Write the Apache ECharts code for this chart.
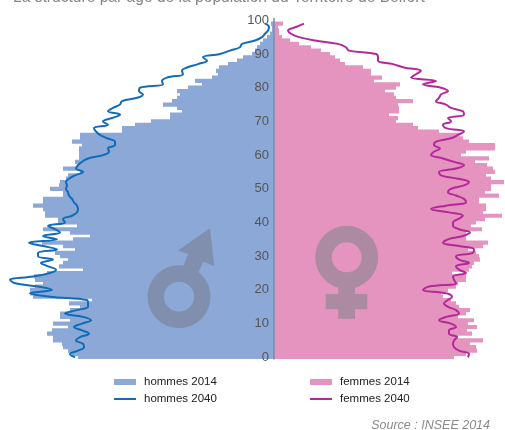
<!DOCTYPE html>
<html>
<head>
<meta charset="utf-8">
<title>Pyramide des âges</title>
<script src="https://cdn.jsdelivr.net/npm/echarts@6/dist/echarts.min.js"></script>
<style>
html, body { margin: 0; padding: 0; background: #fff; }
#chart { width: 505px; height: 430px; }
</style>
</head>
<body>
<div id="chart"></div>
<script>
// ages 0 to 100, bottom to top
var ages = [];
for (var i = 0; i <= 100; i++) ages.push(String(i));
var tickLabels = ['0', '10', '20', '30', '40', '50', '60', '70', '80', '90', '100'];

// values, arbitrary unit (no scale on the original)
var hommes2014 = [196, 202, 206, 211, 212, 221, 221, 227, 222, 206,
    221, 204, 214, 214, 204, 194, 205, 182, 241, 244,
    244, 239, 231, 239, 240, 227, 191, 215, 211, 206,
    214, 219, 199, 211, 232, 201, 184, 204, 231, 197,
    216, 216, 229, 229, 231, 241, 231, 231, 211, 211,
    224, 215, 214, 208, 206, 194, 211, 197, 199, 195,
    195, 195, 195, 192, 202, 194, 194, 152, 152, 139,
    123, 104, 104, 92, 97, 111, 102, 97, 94, 97,
    86, 72, 79, 62, 56, 58, 55, 46, 37, 31,
    22, 19, 17, 14, 11, 7, 4, 2, 2, 3, 0];

var femmes2014 = [180, 192, 203, 202, 196, 209, 184, 198, 193, 203,
    194, 200, 184, 192, 196, 185, 182, 177, 169, 167,
    174, 182, 184, 192, 192, 178, 195, 198, 200, 206,
    205, 202, 194, 209, 214, 192, 192, 192, 208, 197,
    202, 211, 228, 209, 212, 212, 205, 205, 225, 211,
    217, 217, 230, 217, 212, 221, 219, 213, 201, 215,
    187, 192, 221, 221, 195, 189, 185, 165, 144, 139,
    122, 124, 115, 125, 125, 124, 139, 122, 120, 111,
    122, 126, 100, 108, 97, 97, 89, 71, 66, 61,
    56, 47, 37, 25, 16, 8, 5, 5, 4, 9, 0];

var hommes2040 = [199, 204, 196, 190, 191, 198, 194, 185, 192, 200,
    192, 183, 191, 209, 197, 186, 186, 187, 224, 244,
    222, 236, 259, 264, 241, 224, 218, 226, 233, 221,
    236, 236, 217, 231, 245, 217, 231, 214, 219, 226,
    209, 211, 202, 197, 196, 197, 200, 202, 205, 206,
    208, 207, 208, 205, 199, 191, 198, 196, 192, 186,
    171, 165, 166, 159, 159, 167, 174, 178, 180, 166,
    171, 162, 154, 166, 161, 154, 152, 137, 131, 135,
    134, 111, 112, 107, 91, 92, 87, 76, 67, 71,
    54, 44, 34, 32, 19, 12, 9, 6, 5, 9];

var femmes2040 = [194, 195, 185, 180, 179, 180, 183, 175, 175, 182,
    177, 165, 172, 185, 182, 174, 170, 174, 178, 172,
    149, 155, 182, 180, 179, 192, 185, 182, 195, 185,
    182, 199, 200, 185, 169, 174, 189, 196, 185, 179,
    179, 184, 189, 175, 157, 172, 192, 190, 182, 174,
    177, 190, 195, 184, 167, 165, 182, 190, 180, 169,
    157, 160, 166, 160, 162, 177, 184, 190, 172, 169,
    177, 174, 190, 189, 177, 172, 162, 165, 167, 174,
    167, 149, 162, 137, 142, 147, 130, 119, 104, 104,
    102, 75, 72, 64, 41, 25, 17, 14, 22, 30];

var blue = '#8ca8d6', pink = '#e594bf', blueLine = '#0f6cb9', pinkLine = '#b5289a';

function negate(list) {
    return list.map(function (v) { return -v; });
}

function legendFor(names, left) {
    return {
        data: [{ name: names[0], icon: 'rect' }, { name: names[1], itemStyle: { opacity: 0 } }],
        orient: 'vertical',
        left: left,
        top: 376,
        itemWidth: 22,
        itemHeight: 6,
        itemGap: 5,
        padding: 0,
        textStyle: { fontFamily: 'Liberation Sans', fontSize: 11.5, color: '#222', height: 12, lineHeight: 12, padding: [0, 0, 0, 3] }
    };
}

var myChart = echarts.init(document.getElementById('chart'), null, { renderer: 'canvas' });

var option = {
    animation: false,
    backgroundColor: '#fff',
    title: [
        {
            text: 'La structure par âge de la population du Territoire de Belfort',
            left: 8,
            top: -15,
            textStyle: { fontFamily: 'Liberation Sans', fontSize: 15.6, fontWeight: 'normal', color: '#858585' }
        },
        {
            text: 'Source : INSEE 2014',
            right: 10,
            top: 414,
            textStyle: { fontFamily: 'Liberation Sans', fontSize: 12.5, fontWeight: 'normal', fontStyle: 'italic', color: '#8a8a8a' }
        }
    ],
    legend: [
        legendFor(['hommes 2014', 'hommes 2040'], 113),
        legendFor(['femmes 2014', 'femmes 2040'], 309)
    ],
    grid: { left: 0, right: 0, top: 18.6, height: 340.4, outerBoundsMode: 'none' },
    xAxis: {
        type: 'value',
        min: -274,
        max: 231,
        show: false,
        splitLine: { show: false }
    },
    yAxis: {
        type: 'category',
        data: ages,
        position: 'left',
        offset: -274,
        z: 5,
        axisLine: { onZero: false, lineStyle: { color: '#7d8dab', width: 1.5 } },
        axisTick: {
            alignWithLabel: true,
            length: 3,
            lineStyle: { color: '#8a8f9c' },
            interval: function (idx, val) { return tickLabels.indexOf(val) >= 0; }
        },
        axisLabel: {
            fontFamily: 'Liberation Sans',
            fontSize: 13,
            color: '#555',
            margin: 5,
            interval: function (idx, val) { return tickLabels.indexOf(val) >= 0; }
        }
    },
    series: [
        // rows overlap a little, otherwise seams show between them
        { name: 'hommes 2014', type: 'bar', stack: 'pop', barWidth: '125%', data: negate(hommes2014), itemStyle: { color: blue } },
        { name: 'femmes 2014', type: 'bar', stack: 'pop', barWidth: '125%', data: femmes2014, itemStyle: { color: pink } },
        { name: 'hommes 2040', type: 'line', data: negate(hommes2040), smooth: 0.4, symbol: 'none', lineStyle: { color: blueLine, width: 2 }, itemStyle: { color: blueLine }, z: 4 },
        { name: 'femmes 2040', type: 'line', data: femmes2040, smooth: 0.4, symbol: 'none', lineStyle: { color: pinkLine, width: 2 }, itemStyle: { color: pinkLine }, z: 4 }
    ],
    graphic: [
        // male symbol
        { type: 'ring', z: 5, shape: { cx: 179, cy: 296.7, r: 31.5, r0: 15 }, style: { fill: '#7f8fad' } },
        { type: 'polygon', z: 5, shape: { points: [[182.7, 267.3], [188.3, 254], [177.7, 250.7], [210, 228.3], [214.3, 266], [203.3, 261.7], [197.7, 274]] }, style: { fill: '#7f8fad' } },
        // female symbol
        { type: 'ring', z: 5, shape: { cx: 346.7, cy: 257.3, r: 31.5, r0: 15 }, style: { fill: '#ab8aa2' } },
        { type: 'polygon', z: 5, shape: { points: [[338.3, 287], [355, 287], [355, 294], [367.3, 294], [367.3, 309.3], [355, 309.3], [355, 318.7], [338.3, 318.7], [338.3, 309.3], [325.7, 309.3], [325.7, 294], [338.3, 294]] }, style: { fill: '#ab8aa2' } }
    ]
};

myChart.setOption(option);
</script>
</body>
</html>
